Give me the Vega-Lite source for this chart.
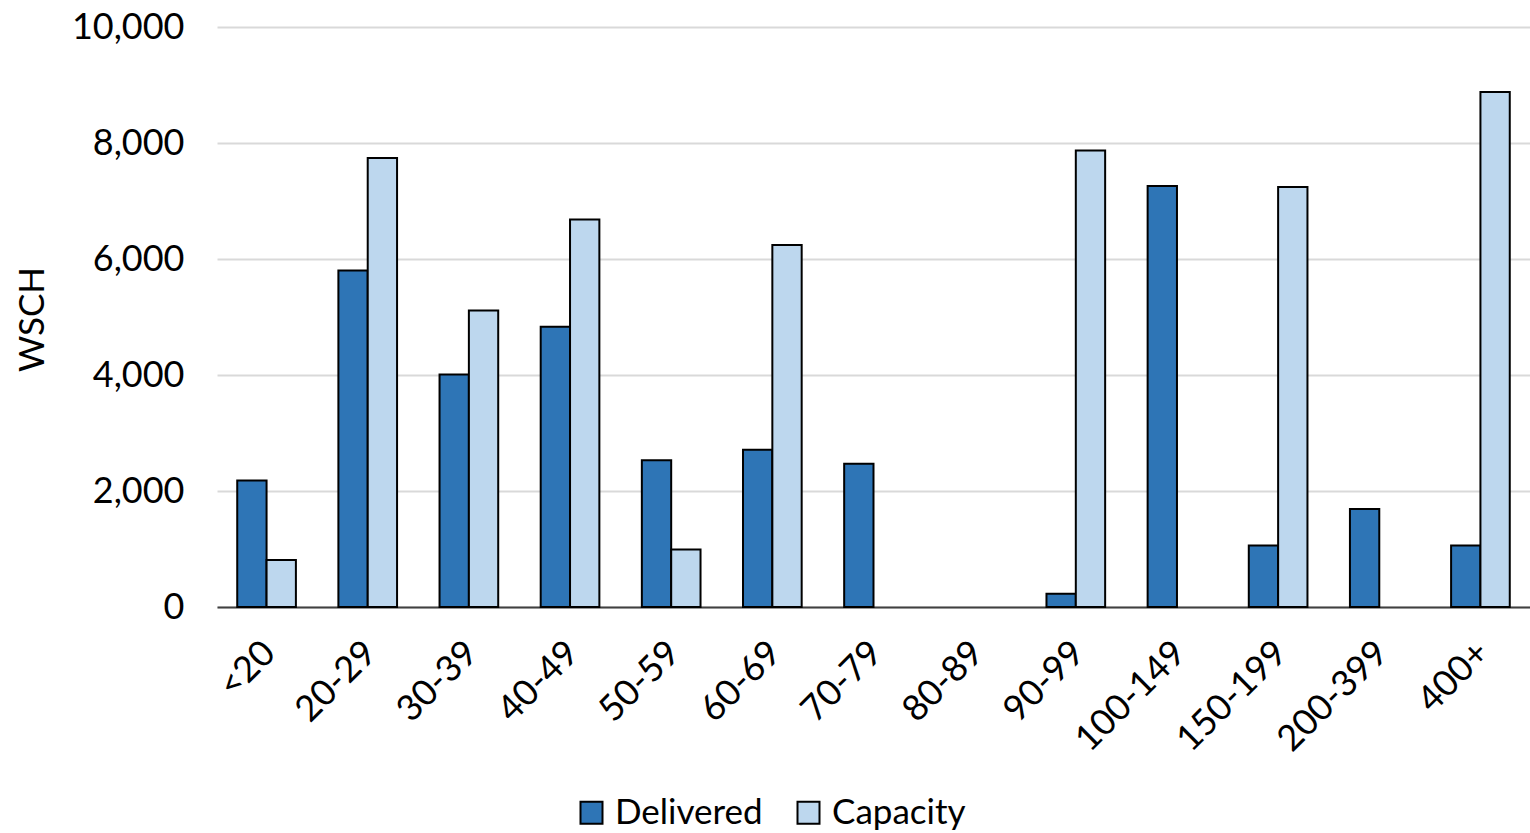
{
  "$schema": "https://vega.github.io/schema/vega-lite/v6.json",
  "autosize": {"type": "none"},
  "width": 1313,
  "height": 580,
  "padding": {"left": 217, "top": 27, "right": 0, "bottom": 226},
  "background": "white",
  "config": {
    "font": "Lato",
    "view": {"stroke": null}
  },
  "data": {
    "values": [
      {"range": "<20", "series": "Delivered", "wsch": 2180},
      {"range": "<20", "series": "Capacity", "wsch": 810},
      {"range": "20-29", "series": "Delivered", "wsch": 5800},
      {"range": "20-29", "series": "Capacity", "wsch": 7740},
      {"range": "30-39", "series": "Delivered", "wsch": 4010},
      {"range": "30-39", "series": "Capacity", "wsch": 5110},
      {"range": "40-49", "series": "Delivered", "wsch": 4830},
      {"range": "40-49", "series": "Capacity", "wsch": 6680},
      {"range": "50-59", "series": "Delivered", "wsch": 2530},
      {"range": "50-59", "series": "Capacity", "wsch": 990},
      {"range": "60-69", "series": "Delivered", "wsch": 2710},
      {"range": "60-69", "series": "Capacity", "wsch": 6240},
      {"range": "70-79", "series": "Delivered", "wsch": 2470},
      {"range": "70-79", "series": "Capacity", "wsch": 0},
      {"range": "80-89", "series": "Delivered", "wsch": 0},
      {"range": "80-89", "series": "Capacity", "wsch": 0},
      {"range": "90-99", "series": "Delivered", "wsch": 230},
      {"range": "90-99", "series": "Capacity", "wsch": 7870},
      {"range": "100-149", "series": "Delivered", "wsch": 7260},
      {"range": "100-149", "series": "Capacity", "wsch": 0},
      {"range": "150-199", "series": "Delivered", "wsch": 1060},
      {"range": "150-199", "series": "Capacity", "wsch": 7240},
      {"range": "200-399", "series": "Delivered", "wsch": 1690},
      {"range": "200-399", "series": "Capacity", "wsch": 0},
      {"range": "400+", "series": "Delivered", "wsch": 1060},
      {"range": "400+", "series": "Capacity", "wsch": 8880}
    ]
  },
  "mark": {"type": "bar", "stroke": "black", "strokeWidth": 2},
  "encoding": {
    "x": {
      "field": "range",
      "type": "nominal",
      "sort": null,
      "scale": {"paddingInner": 0.42, "paddingOuter": 0.2},
      "axis": {
        "title": null,
        "labelAngle": -45,
        "labelAlign": "right",
        "labelBaseline": "top",
        "labelFontSize": 36,
        "labelColor": "black",
        "labelPadding": 28,
        "labelOffset": -9,
        "ticks": false,
        "domainColor": "#404040",
        "domainWidth": 2,
        "grid": false
      }
    },
    "xOffset": {"field": "series", "type": "nominal", "sort": ["Delivered", "Capacity"], "scale": {"paddingInner": 0, "paddingOuter": 0}},
    "y": {
      "field": "wsch",
      "type": "quantitative",
      "scale": {"domain": [0, 10000]},
      "axis": {
        "title": "WSCH",
        "titleFontSize": 35,
        "titleFontWeight": "normal",
        "titleColor": "black",
        "titleX": -185,
        "titleY": 292,
        "titleAngle": -90,
        "titleAlign": "center",
        "titleBaseline": "middle",
        "values": [0, 2000, 4000, 6000, 8000, 10000],
        "format": ",d",
        "labelFontSize": 36,
        "labelColor": "black",
        "labelPadding": 33,
        "ticks": false,
        "domain": false,
        "gridColor": "#d9d9d9",
        "gridWidth": 2
      }
    },
    "strokeOpacity": {
      "condition": {"test": "datum.wsch == 0", "value": 0},
      "value": 1
    },
    "color": {
      "field": "series",
      "type": "nominal",
      "sort": ["Delivered", "Capacity"],
      "scale": {"domain": ["Delivered", "Capacity"], "range": ["#2E75B6", "#BDD7EE"]},
      "legend": {
        "title": null,
        "orient": "none",
        "direction": "horizontal",
        "legendX": 357,
        "legendY": 768,
        "symbolType": "square",
        "symbolSize": 484,
        "symbolStrokeColor": "black",
        "symbolStrokeWidth": 2,
        "symbolOpacity": 1,
        "labelFontSize": 35,
        "labelLimit": 400,
        "labelColor": "black",
        "labelOffset": 6,
        "columnPadding": 28
      }
    }
  }
}
